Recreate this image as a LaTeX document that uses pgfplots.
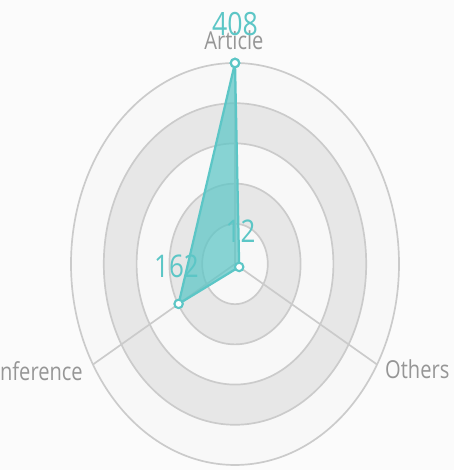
\documentclass[border=0pt]{standalone}
\usepackage{pgfplots}
\usepackage{pgfplotstable}
\usepackage{graphicx}
\usepackage{fontspec}
\setmainfont{Open Sans}
\pgfplotsset{compat=1.18}
\definecolor{teal1}{HTML}{5CC6C6}
\definecolor{ringline}{HTML}{CBCBCB}
\definecolor{ringgray}{HTML}{E7E7E7}
\definecolor{ringwhite}{HTML}{F8F8F8}
\definecolor{labgray}{HTML}{969696}
% angle (deg), value
\pgfplotstableread{
name angle value
Article 90 408
Conference 210 162
Others 330 12
Article 90 408
}\radardata
\begin{document}
\begin{tikzpicture}
\path[use as bounding box] (0,0) rectangle (11.35cm,11.75cm);
\clip (0,0) rectangle (11.35cm,11.75cm);
\fill[white!97!gray] (0,0) rectangle (11.35cm,11.75cm);
\begin{axis}[
  scale only axis, width=11.35cm, height=11.75cm,
  xmin=-584.6, xmax=544.8, ymin=-418.2, ymax=535.9,
  hide axis, clip=false,
]
% rings (outer to inner, alternating fills)
\fill[ringwhite] (axis cs:0,0) ellipse [x radius=408, y radius=408];
\fill[ringgray] (axis cs:0,0) ellipse [x radius=326.4, y radius=326.4];
\fill[ringwhite] (axis cs:0,0) ellipse [x radius=244.8, y radius=244.8];
\fill[ringgray] (axis cs:0,0) ellipse [x radius=163.2, y radius=163.2];
\fill[ringwhite] (axis cs:0,0) ellipse [x radius=81.6, y radius=81.6];
\draw[ringline, line width=1.2pt] (axis cs:0,0) ellipse [x radius=81.6, y radius=81.6];
\draw[ringline, line width=1.2pt] (axis cs:0,0) ellipse [x radius=163.2, y radius=163.2];
\draw[ringline, line width=1.2pt] (axis cs:0,0) ellipse [x radius=244.8, y radius=244.8];
\draw[ringline, line width=1.2pt] (axis cs:0,0) ellipse [x radius=326.4, y radius=326.4];
\draw[ringline, line width=1.2pt] (axis cs:0,0) ellipse [x radius=408, y radius=408];
% spokes
\draw[ringline, line width=1.2pt] (axis cs:0,0) -- (axis cs:0,408);
\draw[ringline, line width=1.2pt] (axis cs:0,0) -- (axis cs:-353.3,-204);
\draw[ringline, line width=1.2pt] (axis cs:0,0) -- (axis cs:353.3,-204);
% data polygon
\addplot[draw=teal1, line width=1.6pt, fill=teal1, fill opacity=0.72, line join=round]
  table[x expr={\thisrow{value}*cos(\thisrow{angle})}, y expr={\thisrow{value}*sin(\thisrow{angle})}] {\radardata} -- cycle;
\addplot[only marks, mark=*, mark size=3pt, mark options={fill=white, draw=teal1, line width=1.5pt}]
  table[x expr={\thisrow{value}*cos(\thisrow{angle})}, y expr={\thisrow{value}*sin(\thisrow{angle})}] {\radardata};
% axis names
\node[labgray, font=\fontsize{14.3}{15}\selectfont] at (axis cs:-2.5,454.7) {\scalebox{1}[1.23]{Article}};
\node[labgray, font=\fontsize{14.3}{15}\selectfont, anchor=west, inner sep=0pt] at (axis cs:373,-213) {\scalebox{1}[1.23]{Others}};
\node[labgray, font=\fontsize{14.3}{15}\selectfont, anchor=east, inner sep=0pt] at (axis cs:-378,-217) {\scalebox{1}[1.23]{Conference}};
% value labels
\node[teal1, font=\fontsize{19}{20}\selectfont] at (axis cs:0,487) {\scalebox{1}[1.2]{408}};
\node[teal1, font=\fontsize{18.5}{20}\selectfont] at (axis cs:13.7,66) {\scalebox{1}[1.2]{12}};
\node[teal1, font=\fontsize{18.5}{20}\selectfont] at (axis cs:-145.5,-5.1) {\scalebox{1}[1.2]{162}};
\end{axis}
\end{tikzpicture}
\end{document}
